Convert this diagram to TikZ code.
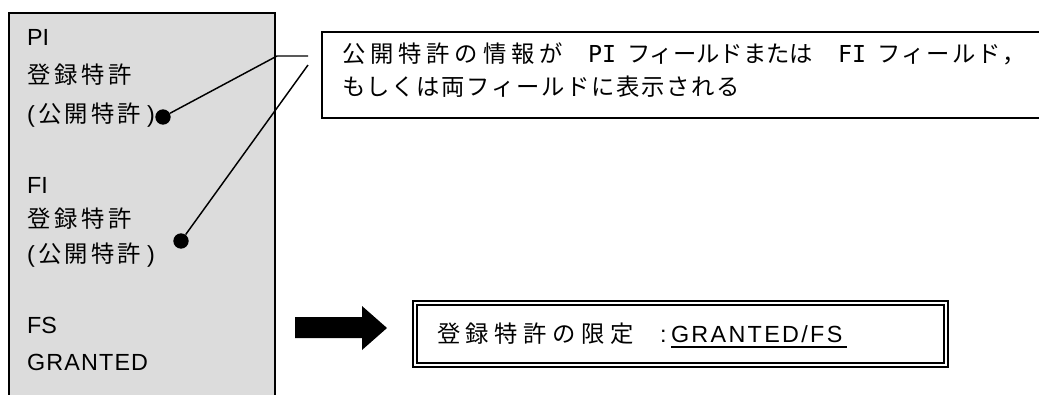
\documentclass[tikz,border=0pt]{standalone}
\usepackage{fontspec}
\setmainfont{Liberation Sans}
\newfontfamily\jp{Noto Sans CJK JP}
\newfontfamily\gmono{DejaVu Sans Mono}
\newdimen\pxu \pxu=0.75pt
\newcommand\lsp[2]{{\addfontfeature{LetterSpace=#1}#2}}
\definecolor{boxgray}{RGB}{220,220,220}
\begin{document}
\begin{tikzpicture}[x=0.75pt,y=-0.75pt,
  txt/.style={anchor=base west,inner sep=0pt,outer sep=0pt,font=\fontsize{17.5pt}{21pt}\selectfont},
  dot/.style={circle,fill=black,inner sep=0pt,minimum size=11.5pt},
  conn/.style={line width=1.1pt},
  callout/.style={draw,line width=1.1pt,inner sep=0pt},
  result/.style={draw,line width=1.5pt,double,double distance=2.2pt,inner sep=0pt}]
\useasboundingbox (0,0) rectangle (1039,394);
% gray panel
\fill[boxgray] (9,13) rectangle (275,420);
\draw[line width=1.5pt] (9,420) -- (9,13) -- (275,13) -- (275,420);
% panel texts
\node[txt] (pi) at (27,45) {PI};
\node[txt] (pi1) at (27,83) {\jp\lsp{17}{登録特許}};
\node[txt] (pi2) at (27,122) {\makebox[11\pxu][l]{(}{\jp\lsp{14}{公開特許}}\hspace{6\pxu}\makebox[8\pxu][l]{)}};
\node[txt] (fi) at (27,193) {FI};
\node[txt] (fi1) at (27,227) {\jp\lsp{17}{登録特許}};
\node[txt] (fi2) at (27,262) {\makebox[11\pxu][l]{(}{\jp\lsp{14}{公開特許}}\hspace{6\pxu}\makebox[8\pxu][l]{)}};
\node[txt] (fs) at (27,333) {FS};
\node[txt] (gr) at (27,370) {\lsp{5}{GRANTED}};
% callout box
\node[callout,minimum width=723*0.75pt,minimum height=86*0.75pt] (cb) at (683.5,75) {};
\node[txt] (c1) at (342,62) {\makebox[246\pxu][l]{\jp\lsp{21}{公開特許の情報が}}\makebox[39\pxu][l]{\gmono PI}\makebox[211\pxu][l]{\jp フィールドまたは}\makebox[39\pxu][l]{\gmono FI}{\jp\lsp{8}{フィールド，}}};
\node[txt] (c2) at (342,95) {\jp\lsp{7}{もしくは両フィールドに表示される}};
% dots and connectors
\node[dot] (d1) at (163,117) {};
\node[dot] (d2) at (181,241) {};
\coordinate (k1) at (277,56);
\coordinate (e1) at (308,56);
\coordinate (e2) at (308,65);
\draw[conn] (d1) -- (k1) -- (e1);
\draw[conn] (d2) -- (e2);
% arrow
\fill[black] (295,317) -- (362,317) -- (362,306) -- (387,328) -- (362,350) -- (362,338) -- (295,338) -- cycle;
% result box
\node[result,minimum width=531*0.75pt,minimum height=62*0.75pt] (rb) at (680.5,334) {};
\node[txt] (rt) at (437,342) {\makebox[223\pxu][l]{\jp\lsp{24}{登録特許の限定}}\makebox[11\pxu][l]{:}\rlap{\rule[-6\pxu]{176\pxu}{2\pxu}}\lsp{10}{GRANTED/FS}};
\end{tikzpicture}
\end{document}
